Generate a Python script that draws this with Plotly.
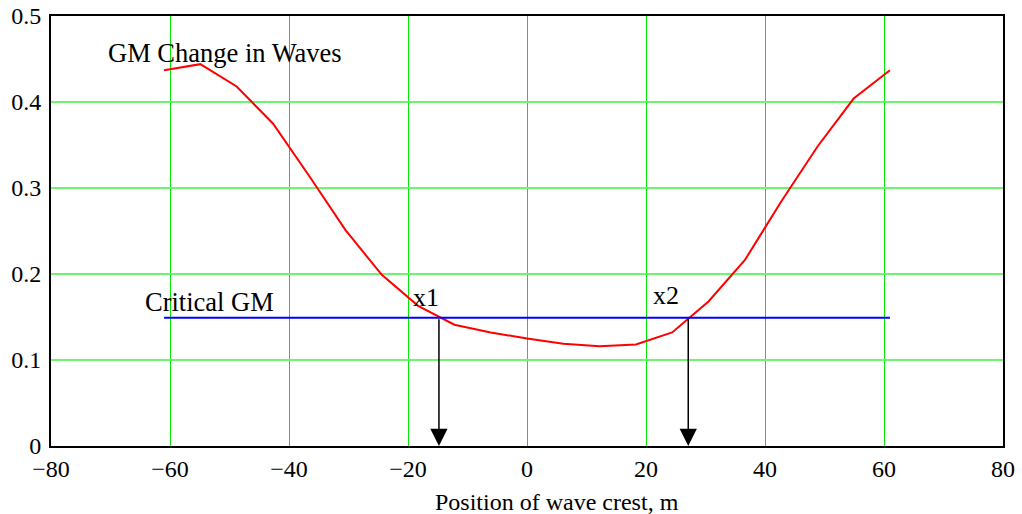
import plotly.graph_objects as go

# Data
x_pos = [-61.0, -54.9, -48.8, -42.7, -36.6, -30.5, -24.4, -18.3, -12.2, -6.1, 0.0,
         6.1, 12.2, 18.3, 24.4, 30.5, 36.6, 42.7, 48.8, 54.9, 61.0]
gm_waves = [0.437, 0.444, 0.418, 0.375, 0.314, 0.251, 0.199, 0.163, 0.141, 0.132, 0.125,
            0.119, 0.116, 0.118, 0.132, 0.168, 0.216, 0.284, 0.348, 0.404, 0.437]
critical_x = [-61.0, 61.0]
critical_gm = [0.149, 0.149]
cross_x = [-14.8, 27.1]
cross_labels = ["x1", "x2"]

x_ticks = [-80, -60, -40, -20, 0, 20, 40, 60, 80]
y_ticks = [0, 0.1, 0.2, 0.3, 0.4, 0.5]

FONT = "Liberation Serif"

fig = go.Figure()
fig.add_trace(go.Scatter(x=x_pos, y=gm_waves, mode="lines",
                         line=dict(color="red", width=2), showlegend=False, hoverinfo="skip"))
fig.add_trace(go.Scatter(x=critical_x, y=critical_gm, mode="lines",
                         line=dict(color="blue", width=2), showlegend=False, hoverinfo="skip"))

annotations = []
for cx in cross_x:
    annotations.append(dict(x=cx, y=0, ax=cx, ay=critical_gm[0], xref="x", yref="y",
                            axref="x", ayref="y", showarrow=True, arrowhead=2,
                            arrowsize=2.3, arrowwidth=1.5, arrowcolor="black", text=""))
label_pos = [(-17.0, 0.173), (23.3, 0.175)]
for (lx, ly), t in zip(label_pos, cross_labels):
    annotations.append(dict(x=lx, y=ly, xref="x", yref="y", text=t, showarrow=False,
                            font=dict(family=FONT, size=26, color="black")))
annotations.append(dict(x=-50.8, y=0.457, xref="x", yref="y", text="GM Change in Waves",
                        showarrow=False, font=dict(family=FONT, size=26.5, color="black")))
annotations.append(dict(x=-53.3, y=0.167, xref="x", yref="y", text="Critical GM",
                        showarrow=False, font=dict(family=FONT, size=26.5, color="black")))
annotations.append(dict(x=0.5315, y=-0.13, xref="paper", yref="paper",
                        text="Position of wave crest, m", showarrow=False,
                        xanchor="center", yanchor="middle",
                        font=dict(family=FONT, size=24, color="black")))

fig.update_layout(
    width=1022, height=514,
    margin=dict(l=51, r=19, t=16, b=68),
    paper_bgcolor="white", plot_bgcolor="white",
    font=dict(family=FONT, size=24, color="black"),
    annotations=annotations,
    xaxis=dict(range=[-80, 80], tickvals=x_ticks, showgrid=True, gridcolor="rgb(0,235,0)",
               gridwidth=1.2, zeroline=False, showline=True, linecolor="black", linewidth=2,
               mirror=True, ticks="", tickfont=dict(family=FONT, size=24), automargin=False),
    yaxis=dict(range=[0, 0.5], tickvals=y_ticks, showgrid=True, gridcolor="rgb(110,245,110)",
               gridwidth=2, zeroline=False, showline=True, linecolor="black", linewidth=2,
               mirror=True, ticks="", tickfont=dict(family=FONT, size=24), automargin=False,
               ticklabelstandoff=3),
)

fig.write_html("out.html")
